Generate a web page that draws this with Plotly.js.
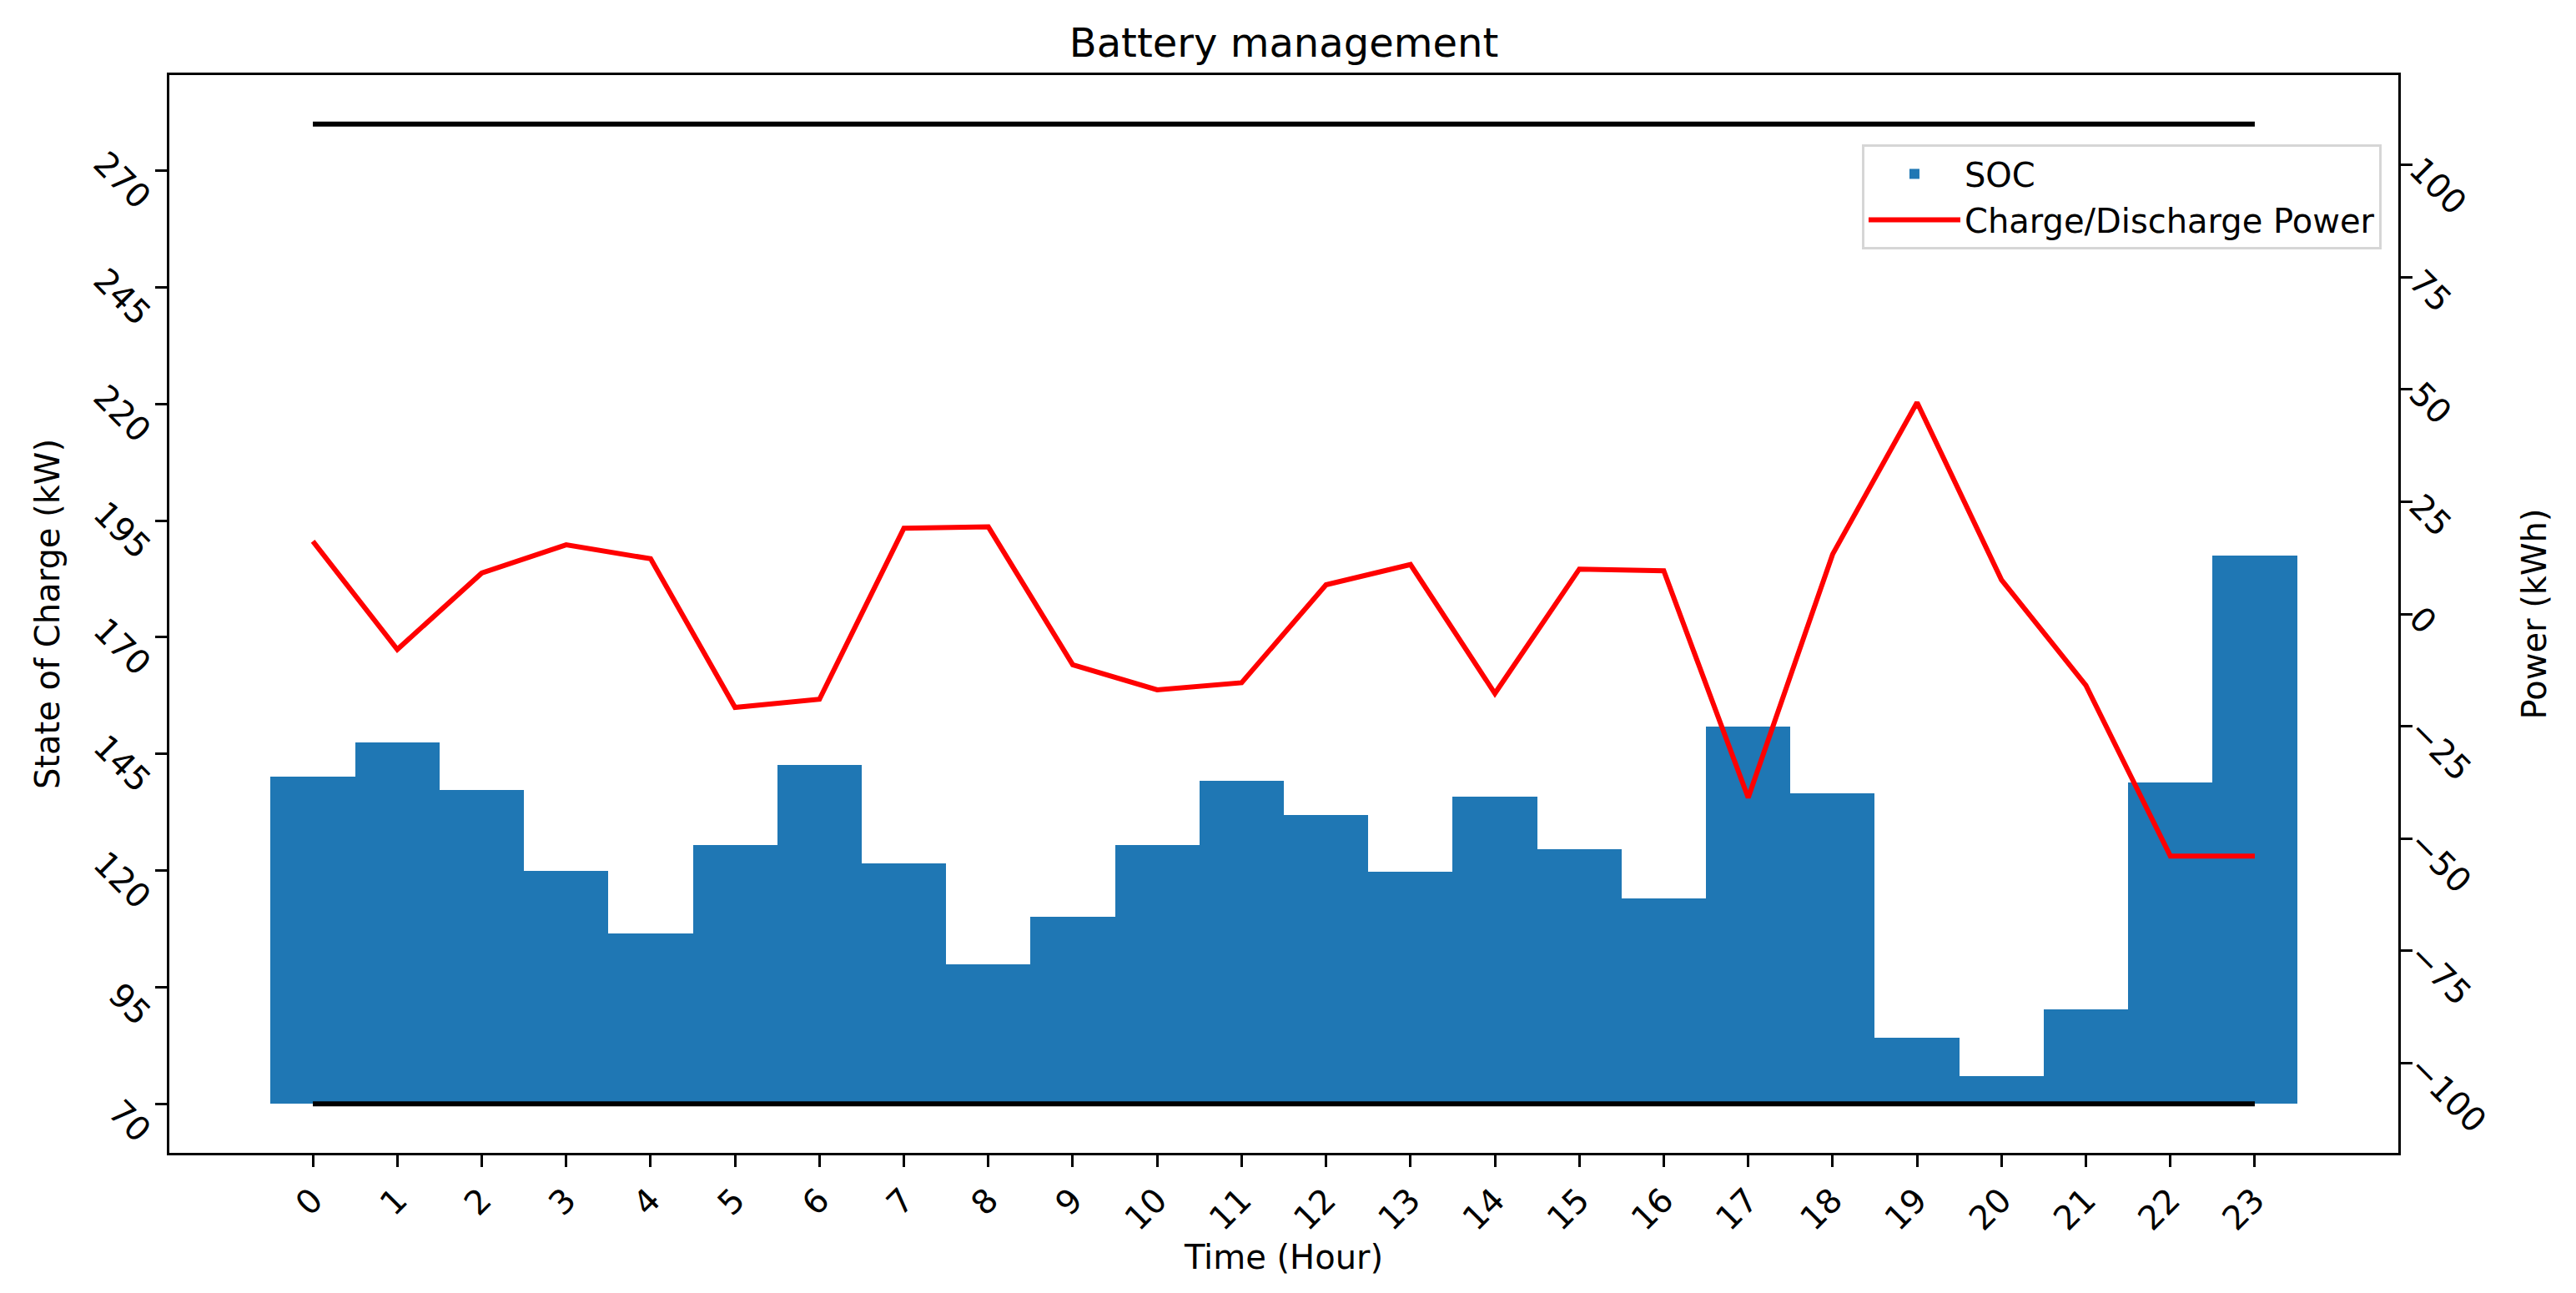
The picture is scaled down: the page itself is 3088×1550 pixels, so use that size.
<!DOCTYPE html>
<html>
<head>
<meta charset="utf-8">
<script src="https://cdn.plot.ly/plotly-3.0.1.min.js"></script>
<style>
  html, body { margin: 0; padding: 0; background: #ffffff; }
  #chart { width: 3088px; height: 1550px; }
</style>
</head>
<body>
<div id="chart"></div>
<script>
// ---- data ----
const hours = [0, 1, 2, 3, 4, 5, 6, 7, 8, 9, 10, 11, 12, 13, 14, 15, 16, 17, 18, 19, 20, 21, 22, 23];
const soc = [140.1, 147.5, 137.2, 119.9, 106.6, 125.4, 142.6, 121.5, 99.9, 110.1, 125.4, 139.2,
             131.9, 119.7, 135.8, 124.6, 114.1, 150.9, 136.6, 84.1, 75.9, 90.2, 138.9, 187.5];
const power = [16.2, -7.9, 9.1, 15.4, 12.3, -20.8, -19.0, 19.1, 19.4, -11.3, -16.9, -15.3,
               6.5, 11.0, -17.7, 10.0, 9.6, -40.9, 13.3, 47.1, 7.6, -15.9, -53.9, -53.9];
const socMin = 70;
const socMax = 280;
const limitHours = [0, 23];
const socTicks = [70, 95, 120, 145, 170, 195, 220, 245, 270];
const powerTicks = [-100, -75, -50, -25, 0, 25, 50, 75, 100];

const FONT = '"DejaVu Sans", "Liberation Sans", sans-serif';

const traces = [
  {
    type: 'bar',
    name: 'SOC',
    x: hours,
    y: soc.map(v => v - socMin),
    base: socMin,
    width: 1,
    marker: { color: '#1f77b4', line: { width: 0 } },
    xaxis: 'x', yaxis: 'y'
  },
  {
    type: 'scatter', mode: 'lines', showlegend: false,
    x: limitHours, y: limitHours.map(() => socMin),
    line: { color: '#000000', width: 6 },
    xaxis: 'x', yaxis: 'y'
  },
  {
    type: 'scatter', mode: 'lines', showlegend: false,
    x: limitHours, y: limitHours.map(() => socMax),
    line: { color: '#000000', width: 6 },
    xaxis: 'x', yaxis: 'y'
  },
  {
    type: 'scatter', mode: 'lines',
    name: 'Charge/Discharge Power',
    x: hours, y: power,
    line: { color: '#ff0000', width: 6 },
    xaxis: 'x', yaxis: 'y2'
  }
];

const axisCommon = {
  showgrid: false, zeroline: false,
  showline: true, linecolor: '#000000', linewidth: 3,
  ticks: 'outside', ticklen: 14, tickwidth: 3, tickcolor: '#000000',
  tickfont: { family: FONT, size: 40, color: '#000000' }
};

const layout = {
  width: 3088, height: 1550,
  paper_bgcolor: '#ffffff', plot_bgcolor: '#ffffff',
  margin: { l: 203, r: 213, t: 90, b: 168, pad: 0 },
  font: { family: FONT, size: 40, color: '#000000' },
  title: {
    text: 'Battery management',
    font: { family: FONT, size: 48, color: '#000000' },
    x: 0.5, xref: 'paper', xanchor: 'center',
    y: 1 - 51 / 1550, yref: 'container', yanchor: 'middle'
  },
  bargap: 0,
  showlegend: true,
  legend: {
    x: 0.9925, y: 0.9358, xanchor: 'right', yanchor: 'top',
    bgcolor: 'rgba(255,255,255,0.8)', bordercolor: '#d6d6d6', borderwidth: 3,
    font: { family: FONT, size: 40, color: '#000000' },
    itemwidth: 110, tracegroupgap: 0
  },
  xaxis: Object.assign({}, axisCommon, {
    range: [-1.7, 24.7],
    tickmode: 'array', tickvals: hours, ticktext: hours.map(String),
    tickangle: -45,
    mirror: true,
    title: { text: 'Time (Hour)', font: { family: FONT, size: 40, color: '#000000' }, standoff: 10 }
  }),
  yaxis: Object.assign({}, axisCommon, {
    range: [59.5, 290.5],
    tickmode: 'array', tickvals: socTicks, ticktext: socTicks.map(String),
    tickangle: 45,
    ticklabelshift: 40,
    mirror: true,
    title: { text: 'State of Charge (kW)', font: { family: FONT, size: 40, color: '#000000' }, standoff: 20 }
  }),
  yaxis2: Object.assign({}, axisCommon, {
    overlaying: 'y', side: 'right', anchor: 'x',
    range: [-120, 120],
    tickmode: 'array', tickvals: powerTicks,
    ticktext: powerTicks.map(v => v < 0 ? '\u2212' + Math.abs(v) : String(v)),
    tickangle: 45,
    title: { text: 'Power (kWh)', font: { family: FONT, size: 40, color: '#000000' }, standoff: 36 }
  })
};

Plotly.newPlot('chart', traces, layout, { displayModeBar: false, staticPlot: true });
</script>
</body>
</html>
